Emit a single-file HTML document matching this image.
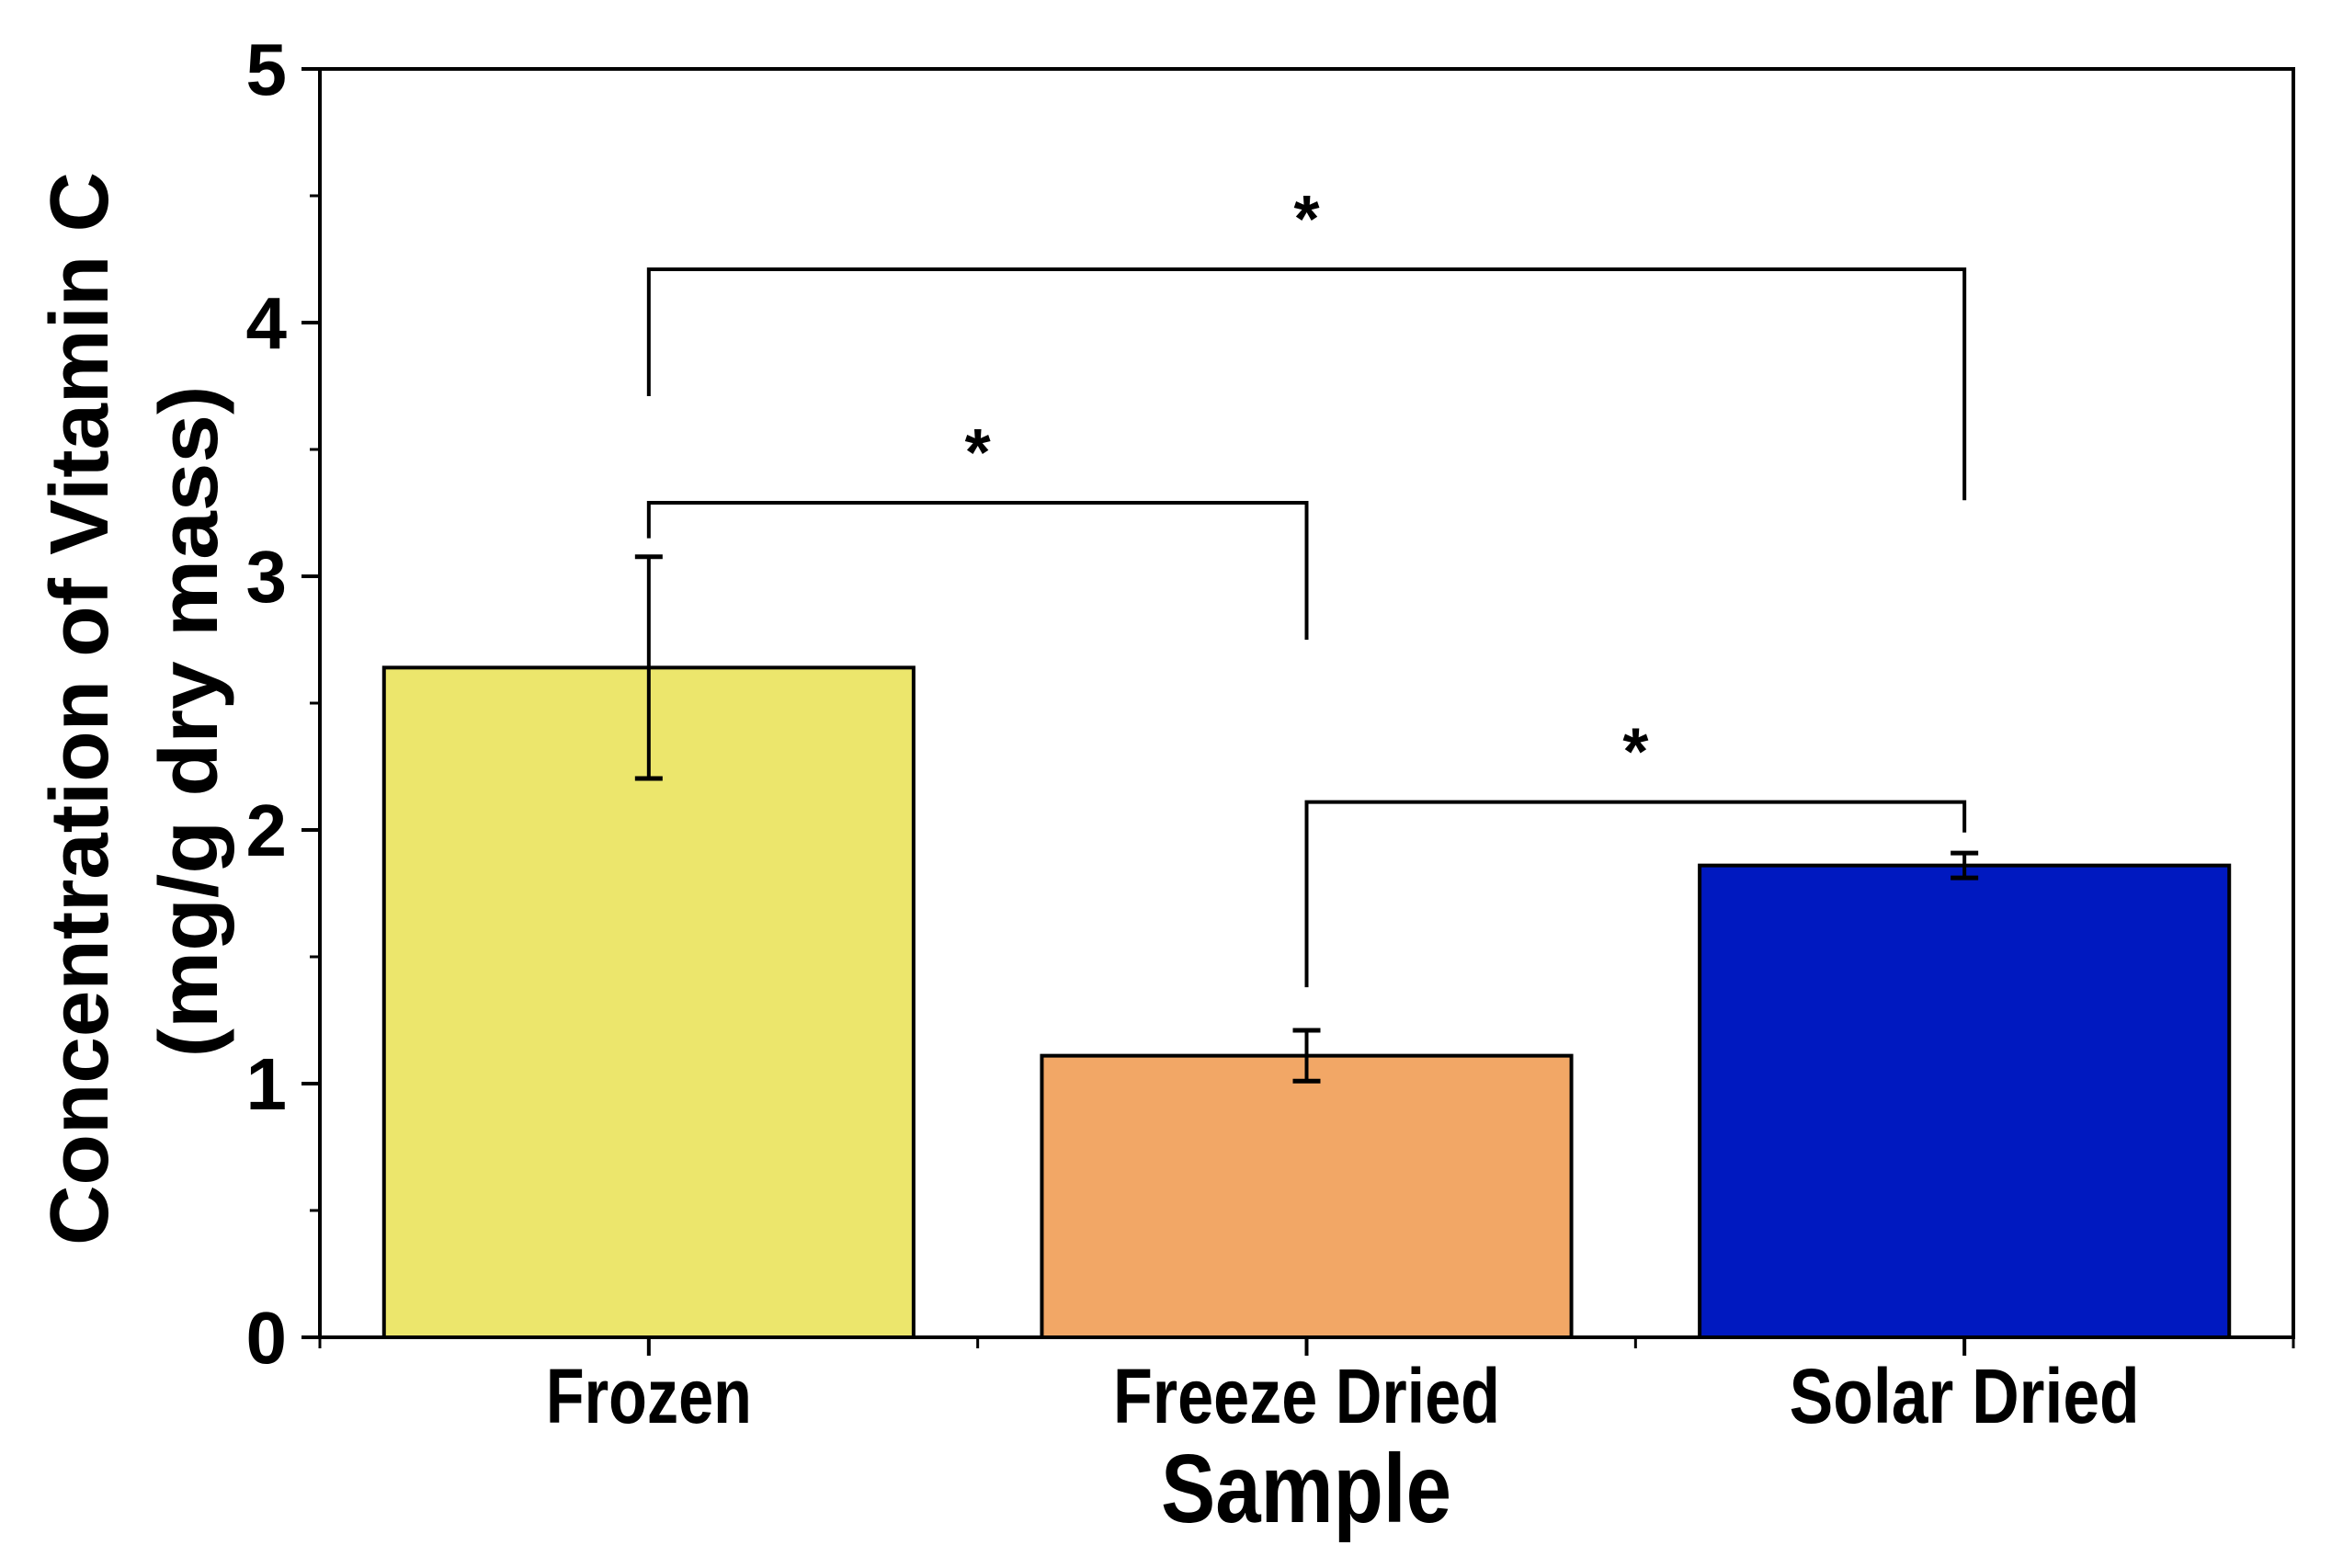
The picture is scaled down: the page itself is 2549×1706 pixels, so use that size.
<!DOCTYPE html>
<html><head><meta charset="utf-8"><style>
html,body{margin:0;padding:0;background:#fff;}
svg{display:block;}
text{font-family:"Liberation Sans",Arial,sans-serif;font-weight:bold;fill:#000;}
</style></head><body>
<svg id="chart" width="2549" height="1706" viewBox="0 0 2549 1706" xmlns="http://www.w3.org/2000/svg">
<g id="g"></g>
</svg>
<script>
const categories = ["Frozen", "Freeze Dried", "Solar Dried"];
const values = [2.64, 1.11, 1.86];
const errors = [0.437, 0.10, 0.049];
const colors = ["#ece66c", "#f2a766", "#0019c0"];
const yTicks = [0, 1, 2, 3, 4, 5];
const yTickLabels = ["0", "1", "2", "3", "4", "5"];
const brackets = [[0, 2, 4.21, 3.71, 3.30], [0, 1, 3.29, 3.15, 2.75], [1, 2, 2.11, 1.38, 1.99]];

const X0 = 348, X1 = 2495, Y0 = 1455, Y1 = 75, YMAX = 5;
const slot = (X1 - X0) / categories.length;
const barW = 0.805 * slot;
function y(v){ return Y0 - (v / YMAX) * (Y0 - Y1); }
function xc(i){ return X0 + slot * (i + 0.5); }
const NS = "http://www.w3.org/2000/svg";
const g = document.getElementById("g");
function mk(tag, attrs, parent){
  const e = document.createElementNS(NS, tag);
  for (const k in attrs) e.setAttribute(k, attrs[k]);
  (parent || g).appendChild(e);
  return e;
}
function line(x1,y1,x2,y2,w){ return mk("line",{x1:x1,y1:y1,x2:x2,y2:y2,stroke:"#000","stroke-width":w||4}); }

categories.forEach((c, i) => {
  const r = mk("rect",{x:xc(i)-barW/2, y:y(values[i]), width:barW, height:Y0-y(values[i]), fill:colors[i], stroke:"#000","stroke-width":4});
  
  
  const eg = mk("g",{});
  
  
  const hi = y(values[i]+errors[i]), lo = y(values[i]-errors[i]);
  mk("line",{x1:xc(i),y1:hi,x2:xc(i),y2:lo,stroke:"#000","stroke-width":4},eg);
  mk("line",{x1:xc(i)-15,y1:hi,x2:xc(i)+15,y2:hi,stroke:"#000","stroke-width":5},eg);
  mk("line",{x1:xc(i)-15,y1:lo,x2:xc(i)+15,y2:lo,stroke:"#000","stroke-width":5},eg);
});

const fr = mk("rect",{x:X0,y:Y1,width:X1-X0,height:Y0-Y1,fill:"none",stroke:"#000","stroke-width":4});



yTicks.forEach((t, i) => {
  line(X0-20, y(t), X0, y(t), 4);
  if (i < yTicks.length-1) line(X0-11, y(t+0.5), X0, y(t+0.5), 3);
  const tx = mk("text",{x:312, y:y(t)+28, "font-size":80, "text-anchor":"end"});
  tx.textContent = yTickLabels[i];
  
  
});
const lw = [224, 421, 381];
categories.forEach((c, i) => {
  line(xc(i), Y0, xc(i), Y0+20, 4);
  const tx = mk("text",{x:xc(i), y:1548, "font-size":84, "text-anchor":"middle", textLength:lw[i], lengthAdjust:"spacingAndGlyphs"});
  tx.textContent = c;
  
  
});
for (let i = 0; i <= categories.length; i++) line(X0 + slot*i, Y0, X0 + slot*i, Y0+12, 3);

brackets.forEach((b, k) => {
  const [a, c, top, la, lb] = b;
  const bg = mk("g",{});
  
  
  mk("polyline",{points:`${xc(a)},${y(la)} ${xc(a)},${y(top)} ${xc(c)},${y(top)} ${xc(c)},${y(lb)}`, fill:"none", stroke:"#000","stroke-width":4},bg);
  const s = mk("text",{x:(xc(a)+xc(c))/2, y:y(top)-30, "font-size":72, "text-anchor":"middle"},bg);
  s.textContent = "*";
});

const xt = mk("text",{x:1421, y:1656, "font-size":106, "text-anchor":"middle", textLength:316, lengthAdjust:"spacingAndGlyphs"});
xt.textContent = "Sample";


const yt = mk("text",{x:0, y:0, "font-size":90, "text-anchor":"middle", textLength:1168, lengthAdjust:"spacingAndGlyphs", transform:"translate(117,771) rotate(-90)"});
yt.textContent = "Concentration of Vitamin C";


const yt2 = mk("text",{x:0, y:0, "font-size":90, "text-anchor":"middle", textLength:731, lengthAdjust:"spacingAndGlyphs", transform:"translate(236,785) rotate(-90)"});
yt2.textContent = "(mg/g dry mass)";


</script>
</body></html>
